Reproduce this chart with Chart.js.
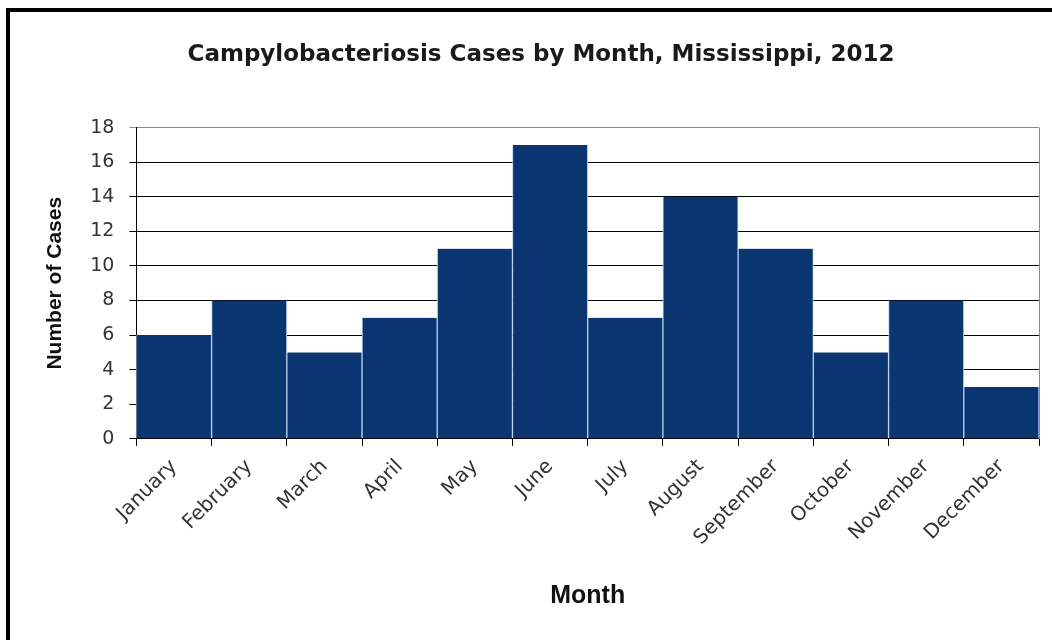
<!DOCTYPE html>
<html>
<head>
<meta charset="utf-8">
<script src="https://cdn.jsdelivr.net/npm/chart.js@4/dist/chart.umd.min.js"></script>
<style>
  html, body { margin: 0; padding: 0; background: #fff; }
  #frame {
    position: absolute; left: 6px; top: 8px;
    width: 1042px; height: 628px;
    border-left: 4px solid #000; border-top: 4px solid #000;
  }
  #wrap { position: relative; width: 1042px; height: 628px; }
</style>
</head>
<body>
<div id="frame"><div id="wrap"><canvas id="campyChart"></canvas></div></div>
<script>
const months = ['January', 'February', 'March', 'April', 'May', 'June',
                'July', 'August', 'September', 'October', 'November', 'December'];
const cases = [6, 8, 5, 7, 11, 17, 7, 14, 11, 5, 8, 3];
const yMin = 0;
const yMax = 18;
const yStep = 2;

// grey frame on the right side of the plot area
const plotFrame = {
    id: 'plotFrame',
    afterDatasetsDraw(chart) {
        const { ctx, chartArea } = chart;
        ctx.save();
        ctx.strokeStyle = '#8a8a8a';
        ctx.lineWidth = 1;
        ctx.beginPath();
        ctx.moveTo(Math.round(chartArea.right) + 0.5, chartArea.top);
        ctx.lineTo(Math.round(chartArea.right) + 0.5, chartArea.bottom);
        ctx.stroke();
        ctx.restore();
    }
};

const ctx = document.getElementById('campyChart').getContext('2d');
new Chart(ctx, {
    type: 'bar',
    data: {
        labels: months,
        datasets: [{
            label: 'Cases',
            data: cases,
            backgroundColor: '#0b3570',
            borderColor: '#b5d0ef',
            borderWidth: { left: 1, right: 1, top: 0, bottom: 0 },
            borderSkipped: false,
            barPercentage: 1.0,
            categoryPercentage: 1.0
        }]
    },
    options: {
        responsive: true,
        maintainAspectRatio: false,
        animation: false,
        layout: {
            padding: { left: 33, right: 13, top: 0, bottom: 29 }
        },
        plugins: {
            legend: { display: false },
            tooltip: { enabled: false },
            title: {
                display: true,
                text: 'Campylobacteriosis Cases by Month, Mississippi, 2012',
                color: '#1a1a1a',
                font: { family: 'DejaVu Sans', size: 23, weight: 'bold' },
                padding: { top: 29, bottom: 59 }
            }
        },
        scales: {
            x: {
                offset: true,
                grid: {
                    display: true,
                    offset: true,
                    drawOnChartArea: false,
                    drawTicks: true,
                    tickLength: 7,
                    color: '#000'
                },
                border: { display: true, color: '#000', width: 1 },
                ticks: {
                    minRotation: 45,
                    maxRotation: 45,
                    padding: 9,
                    color: '#333',
                    font: { family: 'DejaVu Sans', size: 20 }
                },
                title: {
                    display: true,
                    text: 'Month',
                    color: '#111',
                    font: { family: 'Liberation Sans', size: 25, weight: 'bold' },
                    padding: { top: 22, bottom: 0 }
                }
            },
            y: {
                min: yMin,
                max: yMax,
                grid: {
                    color: c => (c.tick && c.tick.value === yMax ? '#8a8a8a' : '#000'),
                    lineWidth: 1,
                    drawTicks: true,
                    tickLength: 7
                },
                border: { display: true, color: '#000', width: 1 },
                ticks: {
                    stepSize: yStep,
                    padding: 15,
                    color: '#333',
                    font: { family: 'DejaVu Sans', size: 19 }
                },
                title: {
                    display: true,
                    text: 'Number of Cases',
                    color: '#111',
                    font: { family: 'Liberation Sans', size: 21, weight: 'bold' },
                    padding: { top: 0, bottom: 7 }
                }
            }
        }
    },
    plugins: [plotFrame]
});
</script>
</body>
</html>
